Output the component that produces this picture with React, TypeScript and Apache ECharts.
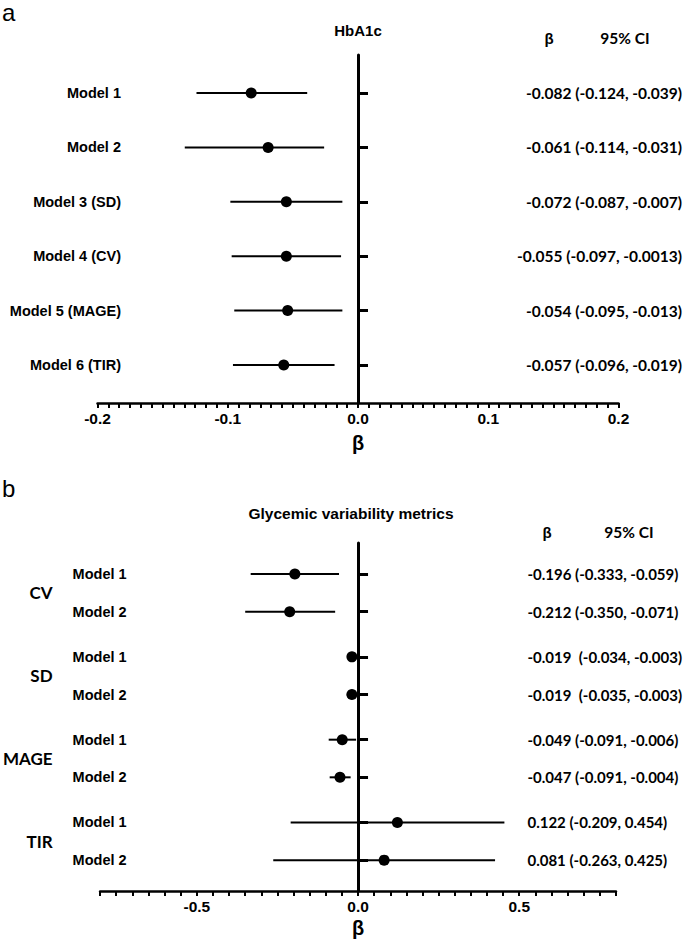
import React, { useEffect, useRef } from "react";
import * as echarts from "echarts";

// ---------- Panel a: HbA1c ----------
const hbaLabels = ["Model 1", "Model 2", "Model 3 (SD)", "Model 4 (CV)", "Model 5 (MAGE)", "Model 6 (TIR)"];
const hbaRows = [1, 2, 3, 4, 5, 6];
const hbaBeta = [-0.082, -0.069, -0.055, -0.055, -0.054, -0.057];
const hbaLow = [-0.124, -0.133, -0.098, -0.097, -0.095, -0.096];
const hbaHigh = [-0.039, -0.026, -0.012, -0.013, -0.012, -0.018];
const hbaText = [
  "-0.082 (-0.124, -0.039)",
  "-0.061 (-0.114, -0.031)",
  "-0.072 (-0.087, -0.007)",
  "-0.055 (-0.097, -0.0013)",
  "-0.054 (-0.095, -0.013)",
  "-0.057 (-0.096, -0.019)",
];

// ---------- Panel b: Glycemic variability metrics ----------
const gvGroups = ["CV", "SD", "MAGE", "TIR"];
const gvGroupRows = [1.5, 3.7, 5.9, 8.1];
const gvLabels = ["Model 1", "Model 2", "Model 1", "Model 2", "Model 1", "Model 2", "Model 1", "Model 2"];
const gvRows = [1, 2, 3.2, 4.2, 5.4, 6.4, 7.6, 8.6];
const gvBeta = [-0.196, -0.212, -0.019, -0.019, -0.049, -0.056, 0.122, 0.081];
const gvLow = [-0.333, -0.35, -0.034, -0.035, -0.091, -0.088, -0.209, -0.263];
const gvHigh = [-0.059, -0.071, -0.003, -0.003, -0.006, -0.023, 0.454, 0.425];
const gvText = [
  "-0.196 (-0.333, -0.059)",
  "-0.212 (-0.350, -0.071)",
  "-0.019  (-0.034, -0.003)",
  "-0.019  (-0.035, -0.003)",
  "-0.049 (-0.091, -0.006)",
  "-0.047 (-0.091, -0.004)",
  "0.122 (-0.209, 0.454)",
  "0.081 (-0.263, 0.425)",
];

const ARIAL = '"Liberation Sans", Arial, sans-serif';
const CALI = 'Lato, "Liberation Sans", sans-serif';

function pick(rows: number[], texts: string[]) {
  return (v: number) => {
    for (let i = 0; i < rows.length; i++) if (Math.abs(rows[i] - v) < 1e-6) return texts[i];
    return "";
  };
}

function ciSeries(xi: number, yi: number, rows: number[], lo: number[], hi: number[]) {
  return {
    type: "custom",
    xAxisIndex: xi,
    yAxisIndex: yi,
    encode: { x: [1, 2], y: 0 },
    data: rows.map((r, i) => [r, lo[i], hi[i]]),
    renderItem: (params: any, api: any) => {
      const y = api.value(0);
      const p1 = api.coord([api.value(1), y]);
      const p2 = api.coord([api.value(2), y]);
      return {
        type: "line",
        shape: { x1: p1[0], y1: p1[1], x2: p2[0], y2: p2[1] },
        style: { stroke: "#000", lineWidth: 2 },
      };
    },
    z: 3,
  };
}

function dotSeries(xi: number, yi: number, rows: number[], beta: number[]) {
  return {
    type: "scatter",
    xAxisIndex: xi,
    yAxisIndex: yi,
    symbol: "circle",
    symbolSize: 11,
    itemStyle: { color: "#000", opacity: 1 },
    data: rows.map((r, i) => [beta[i], r]),
    z: 4,
  };
}

const GRID_LEFT = 97.5;
const GRID_RIGHT_X = 618.5;

function mainY(grid: number, min: number, max: number, rows: number[]) {
  return {
    type: "value",
    gridIndex: grid,
    inverse: true,
    min,
    max,
    axisLine: { show: true, onZero: true, lineStyle: { color: "#000", width: 3 } },
    axisTick: { show: true, inside: true, length: 10, customValues: rows, lineStyle: { color: "#000", width: 3 } },
    axisLabel: { show: false },
    splitLine: { show: false },
  };
}

function labelY(grid: number, min: number, max: number, rows: number[], texts: string[], position: string, align: string, margin: number, font: string, size: number) {
  return {
    type: "value",
    gridIndex: grid,
    inverse: true,
    min,
    max,
    position,
    axisLine: { show: false, onZero: false },
    axisTick: { show: false },
    splitLine: { show: false },
    axisLabel: {
      show: true,
      customValues: rows,
      formatter: pick(rows, texts),
      align,
      margin,
      color: "#000",
      fontWeight: "bold",
      fontFamily: font,
      fontSize: size,
    },
  };
}

function xAxisCfg(grid: number, min: number, max: number, interval: number, minor: number, labelEvery: number, nameGap: number) {
  return {
    type: "value",
    gridIndex: grid,
    min,
    max,
    interval,
    position: "bottom",
    axisLine: { show: true, onZero: false, lineStyle: { color: "#000", width: 2.5 } },
    axisTick: { show: true, length: 5, lineStyle: { color: "#000", width: 2 } },
    minorTick: { show: minor > 0, splitNumber: minor || 5, length: 5, lineStyle: { color: "#000", width: 2 } },
    splitLine: { show: false },
    minorSplitLine: { show: false },
    axisLabel: {
      color: "#000",
      fontWeight: "bold",
      fontFamily: ARIAL,
      fontSize: 15.5,
      margin: 7,
      formatter: (v: number) => {
        const k = v / labelEvery;
        return Math.abs(k - Math.round(k)) < 1e-6 ? v.toFixed(1) : "";
      },
    },
    name: "β",
    nameLocation: "middle",
    nameGap,
    nameTextStyle: { color: "#000", fontWeight: "bold", fontFamily: ARIAL, fontSize: 20 },
  };
}

function textEl(text: string, x: number, y: number, font: string, align = "center") {
  return {
    type: "text",
    x,
    y,
    style: { text, font, fill: "#000", align, verticalAlign: "middle" },
  };
}

export default function App() {
  const ref = useRef<HTMLDivElement>(null);
  useEffect(() => {
    if (!ref.current) return;
    const chart = echarts.init(ref.current, undefined, { renderer: "svg" });
    const aMin = 0.3, aMax = 6.7;
    const bMin = 0.175, bMax = 9.42;
    chart.setOption({
      animation: false,
      grid: [
        { left: GRID_LEFT, top: 55, width: GRID_RIGHT_X - GRID_LEFT, height: 348 },
        { left: GRID_LEFT, top: 543, width: GRID_RIGHT_X - GRID_LEFT, height: 348 },
      ],
      xAxis: [
        xAxisCfg(0, -0.2, 0.2, 0.1, 12, 0.1, 30),
        xAxisCfg(1, -0.8, 0.8, 0.05, 0, 0.5, 27),
      ],
      yAxis: [
        mainY(0, aMin, aMax, hbaRows),
        labelY(0, aMin, aMax, hbaRows, hbaLabels, "left", "right", GRID_LEFT - 121, ARIAL, 14.5),
        labelY(0, aMin, aMax, hbaRows, hbaText, "right", "right", 682 - GRID_RIGHT_X, CALI, 15.5),
        mainY(1, bMin, bMax, gvRows),
        labelY(1, bMin, bMax, gvRows, gvLabels, "left", "left", GRID_LEFT - 70, ARIAL, 14.5),
        labelY(1, bMin, bMax, gvGroupRows, gvGroups, "left", "right", GRID_LEFT - 50, CALI, 17),
        labelY(1, bMin, bMax, gvRows, gvText, "right", "left", 530 - GRID_RIGHT_X, CALI, 15),
      ],
      series: [
        ciSeries(0, 0, hbaRows, hbaLow, hbaHigh),
        dotSeries(0, 0, hbaRows, hbaBeta),
        ciSeries(1, 3, gvRows, gvLow, gvHigh),
        dotSeries(1, 3, gvRows, gvBeta),
      ],
      graphic: [
        textEl("a", 2, 12, `24px ${ARIAL}`, "left"),
        textEl("HbA1c", 358, 30, `bold 15px ${ARIAL}`),
        textEl("β", 549, 38, `bold 15px ${ARIAL}`),
        textEl("95% CI", 625, 38, `bold 15.5px ${CALI}`),
        textEl("b", 2, 488, `24px ${ARIAL}`, "left"),
        textEl("Glycemic variability metrics", 351, 513, `bold 15.5px ${ARIAL}`),
        textEl("β", 547, 532, `bold 15px ${ARIAL}`),
        textEl("95% CI", 629, 532, `bold 15.5px ${CALI}`),
      ],
    });
    return () => chart.dispose();
  }, []);
  return <div ref={ref} style={{ position: "absolute", left: 0, top: 0, width: 685, height: 939 }} />;
}
